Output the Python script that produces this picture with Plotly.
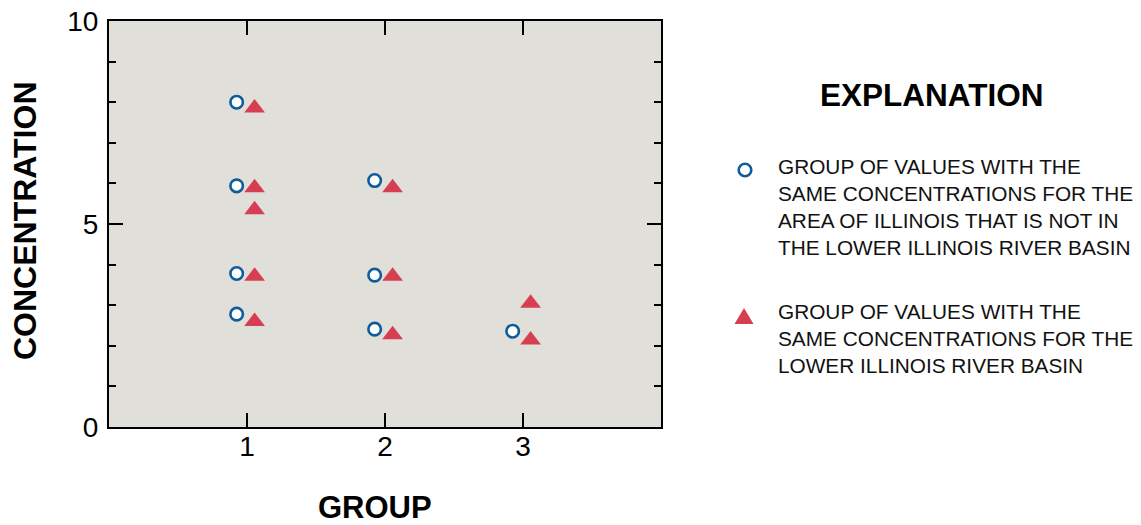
import plotly.graph_objects as go

# Concentration groups, one point per group of identical values
circle_groups = [1, 1, 1, 1, 2, 2, 2, 3]
circle_values = [8.0, 5.94, 3.78, 2.78, 6.07, 3.74, 2.41, 2.36]

triangle_groups = [1, 1, 1, 1, 1, 2, 2, 2, 3, 3]
triangle_values = [7.86, 5.89, 5.35, 3.71, 2.60, 5.89, 3.71, 2.27, 3.05, 2.14]

group_ticks = [1, 2, 3]
group_labels = ["1", "2", "3"]
conc_ticks = [0, 5, 10]
conc_labels = ["0", "5", "10"]

legend_circle_text = ("GROUP OF VALUES WITH THE<br>SAME CONCENTRATIONS FOR THE<br>"
                      "AREA OF ILLINOIS THAT IS NOT IN<br>THE LOWER ILLINOIS RIVER BASIN")
legend_triangle_text = ("GROUP OF VALUES WITH THE<br>SAME CONCENTRATIONS FOR THE<br>"
                        "LOWER ILLINOIS RIVER BASIN")

BLUE = "#0E5C9C"
RED = "#D63F52"
PANEL = "#E1DFDA"
FONT = "Liberation Sans, Arial, sans-serif"

W, H = 1141, 525
ML, MR, MT, MB = 109, 480, 21, 98
PW, PH = W - ML - MR, H - MT - MB

# side-by-side dodge so the two series don't overlap within a group
CIRCLE_DODGE = -0.075
TRIANGLE_DODGE = 0.055


def px_x(px):
    return (px - ML) / PW


def px_y(py):
    return (H - MB - py) / PH


fig = go.Figure()
fig.add_trace(go.Scatter(
    x=[g + CIRCLE_DODGE for g in circle_groups], y=circle_values,
    mode="markers", showlegend=False,
    marker=dict(symbol="circle", size=12.5, color="white",
                line=dict(color=BLUE, width=2.6)),
))
fig.add_trace(go.Scatter(
    x=[g + TRIANGLE_DODGE for g in triangle_groups], y=triangle_values,
    mode="markers", showlegend=False,
    marker=dict(symbol="triangle-up", size=18, color=RED, line=dict(width=0)),
))

axis_common = dict(showline=True, linecolor="black", linewidth=2, mirror="ticks",
                   ticks="inside", tickcolor="black", tickwidth=2, ticklen=14,
                   showgrid=False, zeroline=False, automargin=False,
                   tickfont=dict(family=FONT, size=28, color="black"))

fig.update_xaxes(range=[0, 4], tickmode="array", tickvals=group_ticks,
                 ticktext=group_labels, ticklabelstandoff=-7, **axis_common)
fig.update_yaxes(range=[0, 10], tickmode="array", tickvals=conc_ticks,
                 ticktext=conc_labels, ticklabelstandoff=3,
                 minor=dict(dtick=1, ticks="inside", ticklen=7, tickwidth=2,
                            tickcolor="black", showgrid=False),
                 **axis_common)

annotations = [
    dict(text="<b>CONCENTRATION</b>", x=px_x(25), y=px_y(221), textangle=-90,
         font=dict(family=FONT, size=32, color="black")),
    dict(text="<b>GROUP</b>", x=px_x(375), y=px_y(507),
         font=dict(family=FONT, size=31, color="black")),
    dict(text="<b>EXPLANATION</b>", x=px_x(931), y=px_y(95),
         font=dict(family=FONT, size=31.5, color="black")),
    dict(text=legend_circle_text, x=px_x(776), y=px_y(207), xanchor="left",
         align="left", font=dict(family=FONT, size=20.8, color="#111111")),
    dict(text=legend_triangle_text, x=px_x(776), y=px_y(338), xanchor="left",
         align="left", font=dict(family=FONT, size=20.8, color="#111111")),
]
for a in annotations:
    a.setdefault("xanchor", "center")
    a.update(xref="paper", yref="paper", yanchor="middle", showarrow=False)

# legend keys drawn as pixel-sized shapes beside the explanation text
shapes = [
    dict(type="circle", xref="paper", yref="paper", xsizemode="pixel", ysizemode="pixel",
         xanchor=px_x(745), yanchor=px_y(170), x0=-6.3, x1=6.3, y0=-6.3, y1=6.3,
         fillcolor="white", line=dict(color=BLUE, width=2.6)),
    dict(type="path", xref="paper", yref="paper", xsizemode="pixel", ysizemode="pixel",
         xanchor=px_x(744), yanchor=px_y(316),
         path="M -9.5 -8 L 9.5 -8 L 0 8 Z", fillcolor=RED, line=dict(width=0)),
]

fig.update_layout(
    width=W, height=H,
    margin=dict(l=ML, r=MR, t=MT, b=MB, pad=0, autoexpand=False),
    paper_bgcolor="white", plot_bgcolor=PANEL,
    font=dict(family=FONT, color="black"),
    annotations=annotations, shapes=shapes,
    showlegend=False,
)

fig.write_html("out.html")
